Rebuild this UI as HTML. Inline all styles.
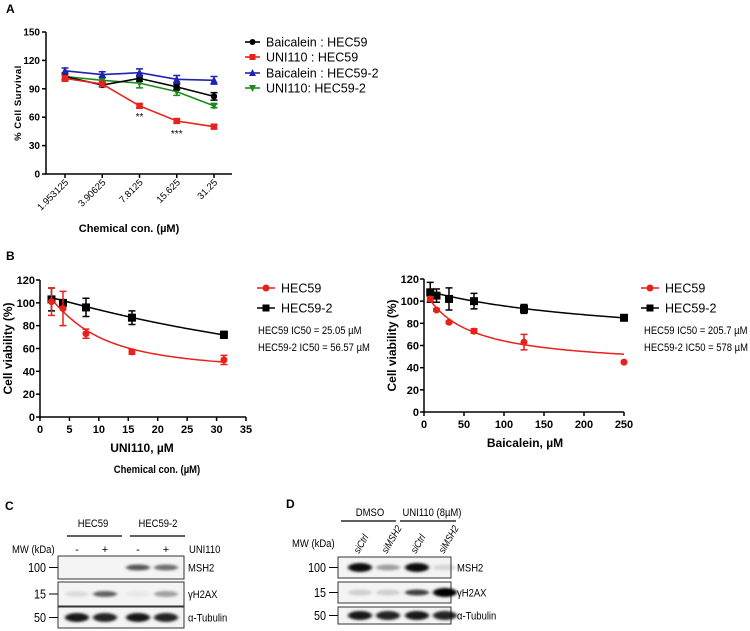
<!DOCTYPE html>
<html><head><meta charset="utf-8"><style>
body{margin:0;background:#fff;}
svg{display:block;font-family:"Liberation Sans",sans-serif;}
</style></head><body>
<svg id="fig" width="750" height="631" viewBox="0 0 750 631" xmlns="http://www.w3.org/2000/svg">
<defs>
<filter id="blur" x="-20%" y="-100%" width="140%" height="300%"><feGaussianBlur stdDeviation="1.6 1.2"/></filter>
</defs>
<text x="6" y="13" font-size="12" font-weight="bold">A</text>
<text x="6" y="260" font-size="12" font-weight="bold">B</text>
<text x="5" y="510" font-size="12" font-weight="bold">C</text>
<text x="286" y="508" font-size="12" font-weight="bold">D</text>
<g id="gA"></g>
<g id="gB1"></g>
<g id="gB2"></g>
<g id="gC"></g>
<g id="gD"></g>
</svg>
<script>
// ---------- Panel A data ----------
const catA = ["1.953125","3.90625","7.8125","15.625","31.25"];
const yTicksA = [0,30,60,90,120,150];
const baiHEC59 = [103,94,101,92,82];
const uniHEC59 = [101,95,72,56,50];
const baiHEC592 = [109,105,107,100,99];
const uniHEC592 = [103,99,96,87,72];
const errBaiHEC59 = [3,2,3,3,4];
const errUniHEC59 = [3,2,2,2,2];
const errBaiHEC592 = [3,3,4,4,4];
const errUniHEC592 = [4,3,5,4,2];
const seriesNamesA = ["Baicalein : HEC59","UNI110 : HEC59","Baicalein : HEC59-2","UNI110: HEC59-2"];
// ---------- Panel B left data ----------
const xB1 = [1.953125,3.90625,7.8125,15.625,31.25];
const redB1 = [101,95,73,57,50];
const redErrB1 = [12,15,4,2,4];
const blackB1 = [103,100,96,87,72];
const blackErrB1 = [10,2,8,6,3];
const fitRedB1 = [38,112,8.2,1.38];   // bottom, top, ec50, hill
const fitBlackB1 = [0,107,60,1.1];
const xTicksB1 = [0,5,10,15,20,25,30,35];
const yTicksB = [0,20,40,60,80,100,120];
// ---------- Panel B right data ----------
const xB2 = [7.8125,15.625,31.25,62.5,125,250];
const redB2 = [102,92,81,73,63,45];
const redErrB2 = [2,1,1,2,7,0];
const blackB2 = [108,105,102,100,93,85];
const blackErrB2 = [9,6,10,7,4,1];
const fitRedB2 = [40,110,52.5,1];
const fitBlackB2 = [60,110,250,1];
const xTicksB2 = [0,50,100,150,200,250];

const NS="http://www.w3.org/2000/svg";
function mk(parent,tag,attrs,txt){const e=document.createElementNS(NS,tag);for(const k in attrs)e.setAttribute(k,attrs[k]);if(txt!==undefined)e.textContent=txt;parent.appendChild(e);return e;}
function marker(g,shape,cx,cy,col,s){
  let e;
  if(shape==="circle") e=mk(g,"circle",{cx:cx,cy:cy,r:s,fill:col});
  else if(shape==="square") e=mk(g,"rect",{x:cx-s,y:cy-s,width:2*s,height:2*s,fill:col});
  else if(shape==="up") e=mk(g,"polygon",{points:`${cx},${cy-s-1} ${cx-s-0.5},${cy+s} ${cx+s+0.5},${cy+s}`,fill:col});
  else e=mk(g,"polygon",{points:`${cx},${cy+s+1} ${cx-s-0.5},${cy-s} ${cx+s+0.5},${cy-s}`,fill:col});
  return e;
}
function errbar(g,x,y1,y2,col,w){
  return mk(g,"path",{d:`M${x},${y1}V${y2}M${x-w},${y1}H${x+w}M${x-w},${y2}H${x+w}`,stroke:col,"stroke-width":1.5,fill:"none"});
}

// ---------- Panel A ----------
(function(){
  const g=document.getElementById("gA");
  const X0=46,X1=232,Y0=174,Y150=32;
  const xA=i=>X0+19+i*(X1-X0-37)/(catA.length-1);
  const yA=v=>Y0-(v/150)*(Y0-Y150);
  const ax=mk(g,"path",{d:`M${X0},${Y150}V${Y0}H${X1}`,stroke:"#000","stroke-width":1.5,fill:"none"});
  
  
  yTicksA.forEach(t=>{
    mk(g,"line",{x1:X0-4,x2:X0,y1:yA(t),y2:yA(t),stroke:"#000","stroke-width":1.5});
    const tl=mk(g,"text",{x:X0-6,y:yA(t)+3.5,"font-size":10,"font-weight":"bold","text-anchor":"end"},t);
    
    
  });
  catA.forEach((c,i)=>{
    const x=xA(i);
    mk(g,"line",{x1:x,x2:x,y1:Y0,y2:Y0+4,stroke:"#000","stroke-width":1.5});
    const tl=mk(g,"text",{x:0,y:0,"font-size":9.5,"text-anchor":"end",transform:`translate(${x+4},${Y0+9}) rotate(-45)`},c);
    
    
  });
  const xt=mk(g,"text",{x:129,y:232,"font-size":11,"font-weight":"bold","text-anchor":"middle"},"Chemical con. (µM)");
  
  
  const yt=mk(g,"text",{x:0,y:0,"font-size":9.5,"font-weight":"bold","text-anchor":"middle",transform:"translate(21,103) rotate(-90)","letter-spacing":"0.5"},"% Cell Survival");
  
  
  const series=[[baiHEC59,errBaiHEC59,"#000","circle"],[uniHEC59,errUniHEC59,"#e8211c","square"],[baiHEC592,errBaiHEC592,"#1f23b0","up"],[uniHEC592,errUniHEC592,"#1e8a1e","down"]];
  [3,0,2,1].forEach(si=>{
    const [vals,errs,col,sh]=series[si];
    const sg=mk(g,"g",{});
    
    
    mk(sg,"polyline",{points:vals.map((v,i)=>`${xA(i)},${yA(v)}`).join(" "),stroke:col,"stroke-width":1.6,fill:"none"});
    vals.forEach((v,i)=>{
      errbar(sg,xA(i),yA(v+errs[i]),yA(v-errs[i]),col,3.5);
      const m=marker(sg,sh,xA(i),yA(v),col,3.2);
      
      
    });
  });
  const s1=mk(g,"text",{x:xA(2),y:120,"font-size":10,"text-anchor":"middle"},"**");
  
  
  const s2=mk(g,"text",{x:xA(3),y:137,"font-size":10,"text-anchor":"middle"},"***");
  
  
  const ly=[42,57,73,88];
  seriesNamesA.forEach((n,i)=>{
    const [v,e,col,sh]=series[i];
    const lg=mk(g,"g",{});
    
    
    mk(lg,"line",{x1:245,x2:260,y1:ly[i],y2:ly[i],stroke:col,"stroke-width":1.6});
    marker(lg,sh,252.5,ly[i],col,3);
    mk(lg,"text",{x:266,y:ly[i]+4.5,"font-size":12.5},n);
  });
})();

// ---------- Panel B ----------
function hill(p,x){return p[0]+(p[1]-p[0])/(1+Math.pow(x/p[2],p[3]));}
function drawB(gid,cfg){
  const g=document.getElementById(gid);
  const {X0,X1,Y0,Y120,xmax,xticks,xs,red,redErr,black,blackErr,fr,fb,xlabel,xlx,xly,legX,legTX,icX,ic1,ic2,prefix}=cfg;
  const sx=v=>X0+v/xmax*(X1-X0);
  const sy=v=>Y0-v/120*(Y0-Y120);
  const ax=mk(g,"path",{d:`M${X0},${Y120}V${Y0}H${X1}`,stroke:"#000","stroke-width":1.5,fill:"none"});
  
  
  yTicksB.forEach(t=>{
    mk(g,"line",{x1:X0-4,x2:X0,y1:sy(t),y2:sy(t),stroke:"#000","stroke-width":1.5});
    const tl=mk(g,"text",{x:X0-5,y:sy(t)+4,"font-size":11,"font-weight":"bold","text-anchor":"end"},t);
    
    
  });
  xticks.forEach(t=>{
    mk(g,"line",{x1:sx(t),x2:sx(t),y1:Y0,y2:Y0+4,stroke:"#000","stroke-width":1.5});
    const tl=mk(g,"text",{x:sx(t),y:Y0+16,"font-size":11,"font-weight":"bold","text-anchor":"middle"},t);
    
    
  });
  const xt=mk(g,"text",{x:xlx,y:xly,"font-size":12,"font-weight":"bold","text-anchor":"middle"},xlabel);
  
  
  const yt=mk(g,"text",{x:0,y:0,"font-size":12,"font-weight":"bold","text-anchor":"middle",transform:`translate(${X0-28},${(Y0+Y120)/2}) rotate(-90)`},"Cell viability (%)");
  
  
  [[fb,"#000",black,blackErr,"square"],[fr,"#e8211c",red,redErr,"circle"]].forEach(([p,col,vals,errs,sh],k)=>{
    const sg=mk(g,"g",{});
    
    
    let d="";
    const x0=xs[0],xe=xs[xs.length-1];
    for(let i=0;i<=120;i++){const x=x0+(xe-x0)*i/120;d+=(i?"L":"M")+sx(x).toFixed(2)+","+sy(hill(p,x)).toFixed(2);}
    const c=mk(sg,"path",{d:d,stroke:col,"stroke-width":1.5,fill:"none"});
    
    
    vals.forEach((v,i)=>{
      if(errs[i]>0) errbar(sg,sx(xs[i]),sy(v+errs[i]),sy(v-errs[i]),col,3.5);
      const m=marker(sg,sh,sx(xs[i]),sy(v),col,sh==="square"?4:3.5);
      
      
    });
  });
  const l1=mk(g,"g",{});
  
  
  mk(l1,"line",{x1:legX,x2:legX+18,y1:288,y2:288,stroke:"#e8211c","stroke-width":1.6});
  marker(l1,"circle",legX+9,288,"#e8211c",3.5);
  mk(l1,"text",{x:legTX,y:292.5,"font-size":12.5},"HEC59");
  const l2=mk(g,"g",{});
  
  
  mk(l2,"line",{x1:legX,x2:legX+18,y1:308,y2:308,stroke:"#000","stroke-width":1.6});
  marker(l2,"square",legX+9,308,"#000",3.5);
  mk(l2,"text",{x:legTX,y:312.5,"font-size":12.5},"HEC59-2");
  const i1=mk(g,"text",{x:icX,y:334,"font-size":11,class:"n"},ic1);
  
  
  const i2=mk(g,"text",{x:icX,y:351,"font-size":11,class:"n"},ic2);
  
  
}
drawB("gB1",{X0:40,X1:246,Y0:417,Y120:280,xmax:35,xticks:xTicksB1,xs:xB1,red:redB1,redErr:redErrB1,black:blackB1,blackErr:blackErrB1,fr:fitRedB1,fb:fitBlackB1,xlabel:"UNI110, µM",xlx:142,xly:452,legX:257,legTX:281,icX:258,ic1:"HEC59 IC50 = 25.05 µM",ic2:"HEC59-2 IC50 = 56.57 µM",prefix:"b-left"});
drawB("gB2",{X0:424,X1:624,Y0:412,Y120:279,xmax:250,xticks:xTicksB2,xs:xB2,red:redB2,redErr:redErrB2,black:blackB2,blackErr:blackErrB2,fr:fitRedB2,fb:fitBlackB2,xlabel:"Baicalein, µM",xlx:525,xly:447,legX:641,legTX:665,icX:644,ic1:"HEC59 IC50 = 205.7 µM",ic2:"HEC59-2 IC50 = 578 µM",prefix:"b-right"});
(function(){
  const g=document.getElementById("gB1");
  const t=mk(g,"text",{x:157,y:473,"font-size":11,"font-weight":"bold","text-anchor":"middle",class:"n"},"Chemical con. (µM)");
  
  
})();

// ---------- Blots ----------
function blot(gid,cfg){
  const g=document.getElementById(gid);
  const {bx0,bx1,boxes,lanes,bands,mw,labels,labX}=cfg;
  boxes.forEach((b,bi)=>{
    const bg=mk(g,"g",{});
    
    
    mk(bg,"rect",{x:bx0,y:b[0],width:bx1-bx0,height:b[1]-b[0],fill:"#f4f4f4",stroke:"#333","stroke-width":1});
    const cy=(b[0]+b[1])/2;
    bands[bi].forEach((a,li)=>{
      if(a<=0)return;
      mk(bg,"ellipse",{cx:lanes[li],cy:cy,rx:12,ry:a>0.8?4.5:3,fill:"#000","fill-opacity":a,filter:"url(#blur)"});
    });
    mk(bg,"line",{x1:bx0-9,x2:bx0,y1:cy,y2:cy,stroke:"#000","stroke-width":1});
    mk(bg,"text",{x:bx0-12,y:cy+4.5,"font-size":12.5,"text-anchor":"end",class:"n"},mw[bi]);
    mk(bg,"text",{x:labX,y:cy+4,"font-size":11,class:"n"},labels[bi]);
  });
}
(function(){
  const g=document.getElementById("gC");
  blot("gC",{bx0:58,bx1:184,boxes:[[556,579],[582,606],[607,628]],lanes:[77,105,138,166],
    bands:[[0,0,0.65,0.55],[0.1,0.6,0.05,0.35],[0.9,0.85,0.9,0.85]],mw:["100","15","50"],labels:["MSH2","γH2AX","α-Tubulin"],labX:188});
  const a=mk(g,"text",{x:93,y:527,"font-size":11,"text-anchor":"middle",class:"n"},"HEC59");
  
  
  const b=mk(g,"text",{x:158,y:527,"font-size":11,"text-anchor":"middle",class:"n"},"HEC59-2");
  
  
  mk(g,"path",{d:"M67,536H122M130,536H185",stroke:"#000","stroke-width":1.3});
  const mwl=mk(g,"text",{x:12,y:553,"font-size":11,class:"n"},"MW (kDa)");
  
  
  ["-","+","-","+"].forEach((s,i)=>{const t=mk(g,"text",{x:[77,105,138,166][i],y:553,"font-size":11,"text-anchor":"middle"},s);
    
    });
  const u=mk(g,"text",{x:189,y:553,"font-size":11,class:"n"},"UNI110");
  
  
})();
(function(){
  const g=document.getElementById("gD");
  const lanes=[360,388,417,445];
  blot("gD",{bx0:338,bx1:451,boxes:[[557,578],[582,603],[607,624]],lanes:lanes,
    bands:[[0.95,0.35,0.95,0.12],[0.15,0.15,0.75,1],[0.9,0.85,0.9,0.85]],mw:["100","15","50"],labels:["MSH2","γH2AX","α-Tubulin"],labX:457});
  const a=mk(g,"text",{x:370,y:516,"font-size":11,"text-anchor":"middle",class:"n"},"DMSO");
  
  
  const b=mk(g,"text",{x:432,y:516,"font-size":11,"text-anchor":"middle",class:"n"},"UNI110 (8µM)");
  
  
  mk(g,"path",{d:"M341,521H396M400,521H456",stroke:"#000","stroke-width":1.3});
  const mwl=mk(g,"text",{x:292,y:547,"font-size":11,class:"n"},"MW (kDa)");
  
  
  ["siCtrl","siMSH2","siCtrl","siMSH2"].forEach((s,i)=>{
    const t=mk(g,"text",{x:0,y:0,"font-size":10,"font-style":"italic",class:"n",transform:`translate(${lanes[i]-1},${554}) rotate(-60)`},s);
    
    
  });
})();
// narrow the condensed-font labels
document.querySelectorAll("text.n").forEach(t=>{
  const w=t.getComputedTextLength();
  if(w>0){t.setAttribute("textLength",(w*0.86).toFixed(1));t.setAttribute("lengthAdjust","spacingAndGlyphs");}
});
</script>
</body></html>
